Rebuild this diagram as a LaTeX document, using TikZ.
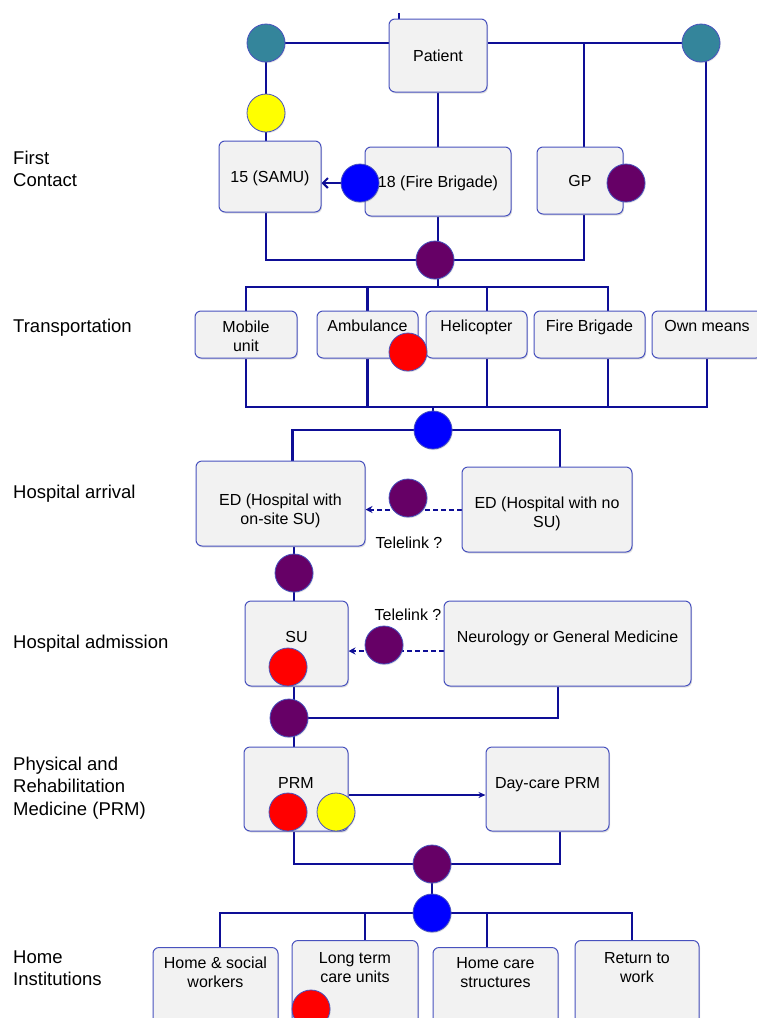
\documentclass[tikz,border=0pt]{standalone}
\usepackage{fontspec}
\setmainfont{Liberation Sans}
\usetikzlibrary{arrows.meta,shadows}
\pgfdeclarelayer{background}
\pgfsetlayers{background,main}
\definecolor{linkblue}{RGB}{14,14,150}
\definecolor{edgeblue}{RGB}{72,82,190}
\definecolor{boxgray}{RGB}{242,242,242}
\definecolor{dotteal}{RGB}{52,133,155}
\definecolor{dotpurple}{RGB}{102,0,102}
\definecolor{dotblue}{RGB}{0,0,255}
\definecolor{dotred}{RGB}{255,0,0}
\definecolor{dotyellow}{RGB}{255,255,0}
\tikzset{
  box/.style={draw=edgeblue, line width=1pt, fill=boxgray, rounded corners=6pt, align=center,
    font=\fontsize{16}{19}\selectfont, text height=12pt, text depth=1pt, inner sep=0pt,
    drop shadow={opacity=0.25, shadow xshift=1pt, shadow yshift=-1.5pt}},
  dot/.style={circle, draw=edgeblue, line width=0.8pt, fill=#1, minimum size=38pt, inner sep=0pt,
    drop shadow={opacity=0.2, shadow xshift=0.8pt, shadow yshift=-1.2pt}},
  link/.style={draw=linkblue, line width=2.8pt},
  thinlink/.style={draw=linkblue, line width=2pt},
  telelink/.style={draw=linkblue, line width=2pt, dash pattern=on 5pt off 3pt, -{Stealth[length=7pt,width=7pt]}},
  stage/.style={anchor=north west, inner sep=0pt, align=left, font=\fontsize{18.5}{22.5}\selectfont},
  note/.style={inner sep=0pt, font=\fontsize{16}{19}\selectfont}
}
\begin{document}
\begin{tikzpicture}[x=1pt,y=-1pt]
\useasboundingbox (0,0) rectangle (757,1018);
\clip (0,0) rectangle (757,1018);

\node[stage] (lfirst) at (13,150.5) {First\\Contact};
\node[stage] (ltrans) at (13,318.4) {Transportation};
\node[stage] (larr) at (13,484.4) {Hospital arrival};
\node[stage] (ladm) at (13,634.4) {Hospital admission};
\node[stage] (lprm) at (13,756.4) {Physical and\\Rehabilitation\\Medicine (PRM)};
\node[stage] (lhome) at (13,950.4) {Home\\Institutions};

\node[box, minimum width=98pt, minimum height=73pt] (patient) at (438,55.5) {Patient};
\node[box, minimum width=102pt, minimum height=71pt] (samu) at (270,176.5) {15 (SAMU)};
\node[box, minimum width=146pt, minimum height=69pt] (fire) at (438,181.5) {18 (Fire Brigade)};
\node[box, minimum width=86pt, minimum height=67pt] (gp) at (580,180.5) {GP};

\node[box, minimum width=102pt, minimum height=47pt, text height=34.5pt, text depth=0pt] (mobile) at (246,334.5) {Mobile\\unit};
\node[box, minimum width=101pt, minimum height=47pt, text depth=17.5pt] (amb) at (367.5,334.5) {Ambulance};
\node[box, minimum width=101pt, minimum height=47pt, text depth=17.5pt] (heli) at (476.5,334.5) {Helicopter};
\node[box, minimum width=111pt, minimum height=47pt, text depth=17.5pt] (fireb) at (589.5,334.5) {Fire Brigade};
\node[box, minimum width=110pt, minimum height=47pt, text depth=17.5pt] (own) at (707,334.5) {Own means};

\node[box, minimum width=169pt, minimum height=85pt, text height=41.5pt, text depth=0pt] (edon) at (280.5,503.5) {ED (Hospital with\\on-site SU)};
\node[box, minimum width=170pt, minimum height=85pt, text height=36.5pt, text depth=0pt] (edno) at (547,509.5) {ED (Hospital with no\\SU)};
\node[note] (tl1) at (409,543) {Telelink ?};

\node[box, minimum width=103pt, minimum height=85pt, text depth=13.5pt] (su) at (296.5,643.5) {SU};
\node[note] (tl2) at (408,615) {Telelink ?};
\node[box, minimum width=247pt, minimum height=85pt, text depth=13.5pt] (neuro) at (567.5,643.5) {Neurology or General Medicine};

\node[box, minimum width=104pt, minimum height=84pt, text depth=12.5pt] (prm) at (296,789) {PRM};
\node[box, minimum width=123pt, minimum height=84pt, text depth=12.5pt] (day) at (547.5,789) {Day-care PRM};

\node[box, anchor=north, minimum width=125pt, minimum height=90pt, text height=31pt, text depth=40.5pt] (hsw) at (215.5,947) {Home \& social\\workers};
\node[box, anchor=north, minimum width=126pt, minimum height=90pt, text height=31pt, text depth=37.5pt] (lt) at (355,940) {Long term\\care units};
\node[box, anchor=north, minimum width=125pt, minimum height=90pt, text height=31pt, text depth=40.5pt] (hc) at (495.5,947) {Home care\\structures};
\node[box, anchor=north, minimum width=124pt, minimum height=90pt, text height=31pt, text depth=37.5pt] (rtw) at (637,940) {Return to\\work};

\node[dot=dotteal] (teal1) at (266,43) {};
\node[dot=dotteal] (teal2) at (701,43) {};
\node[dot=dotyellow] (yel1) at (266,113) {};
\node[dot=dotblue] (blue1) at (360,183) {};
\node[dot=dotpurple] (pgp) at (626,183) {};
\node[dot=dotpurple] (pfc) at (435,260) {};
\node[dot=dotred] (ramb) at (408,352) {};
\node[dot=dotblue] (blue2) at (433,430) {};
\node[dot=dotpurple] (ptl1) at (408,498) {};
\node[dot=dotpurple] (ped) at (294,573) {};
\node[dot=dotpurple] (ptl2) at (384,645) {};
\node[dot=dotred] (rsu) at (288,667) {};
\node[dot=dotpurple] (psu) at (289,718) {};
\node[dot=dotred] (rprm) at (288,812) {};
\node[dot=dotyellow] (yprm) at (336,812) {};
\node[dot=dotpurple] (pprm) at (432,864) {};
\node[dot=dotblue] (bhome) at (432,913) {};
\node[dot=dotred] (rlt) at (311,1009) {};

\coordinate (tbus) at (438,287);
\coordinate (bbus) at (433,407);

\begin{pgfonlayer}{background}
\draw[thinlink] (teal1) -- (patient.west |- teal1);
\draw[link] (patient.east |- teal2) -- (teal2);
\draw[thinlink] ([xshift=10pt]patient.north west) -- ++(0,-6);
\draw[thinlink] (teal1) -- (yel1) -- (yel1 |- samu.north);
\draw[link] (patient.south) -- (fire.north);
\draw[link] ([xshift=4pt]gp.north) -- ([xshift=4pt]gp.north |- teal2);
\draw[thinlink, -{Straight Barb[length=5pt,width=10pt]}] (blue1) -- (blue1 -| samu.east);
\draw[thinlink] (yel1 |- samu.south) |- (pfc) -| ([xshift=4pt]gp.south);
\draw[link] (fire.south) -- (fire.south |- tbus);

\draw[link] (mobile.north) |- (tbus) -| ([xshift=18.5pt]fireb.north);
\draw[link] (amb.north) -- (amb.north |- tbus);
\draw[link] ([xshift=10.5pt]heli.north) -- ([xshift=10.5pt]heli.north |- tbus);
\draw[link] (mobile.south) |- (bbus) -| ([xshift=18.5pt]fireb.south);
\draw[link] (amb.south) -- (amb.south |- bbus);
\draw[link] ([xshift=10.5pt]heli.south) -- ([xshift=10.5pt]heli.south |- bbus);
\draw[thinlink] (own.south) |- ([xshift=18.5pt]fireb.south |- bbus);
\draw[thinlink] ([xshift=5pt]teal2.center) -- ([xshift=5pt]teal2.center |- own.north);

\draw[link] (bbus) -- (blue2);
\draw[link] ([xshift=12pt]edon.north) |- (blue2) -| ([xshift=13pt]edno.north);
\draw[telelink] (edno.west) -- (edno.west -| edon.east);
\draw[link] (ped |- edon.south) -- (ped |- su.north);
\draw[telelink] ([yshift=-7.5pt]neuro.west) -- ([yshift=-7.5pt]neuro.west -| su.east);
\draw[link] (ped |- su.south) -- (ped |- prm.north);
\draw[thinlink] (psu) -| ([xshift=-9.5pt]neuro.south);

\draw[thinlink, -{Stealth[length=7pt,width=6pt]}] ([yshift=-6pt]prm.east) -- ([yshift=-6pt]prm.east -| day.west);
\draw[link] (ped |- prm.south) |- (pprm) -| ([xshift=12.5pt]day.south);
\draw[link] (pprm) -- (bhome);
\draw[link] ([xshift=4.5pt]hsw.north) |- (bhome) -| ([xshift=-5pt]rtw.north);
\draw[link] ([xshift=10pt]lt.north) -- ([xshift=10pt]lt.north |- bhome);
\draw[link] ([xshift=-8.5pt]hc.north) -- ([xshift=-8.5pt]hc.north |- bhome);
\end{pgfonlayer}
\end{tikzpicture}
\end{document}
